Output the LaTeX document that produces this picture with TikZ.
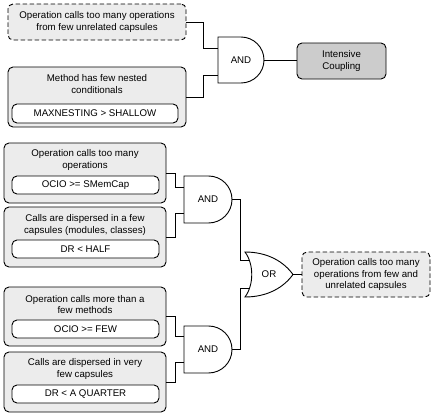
\documentclass[tikz,border=0pt]{standalone}
\usepackage{fontspec}
\setmainfont{Liberation Sans}
\tikzset{
  outerbox/.style={draw=black, line width=0.9pt, rounded corners=5pt, fill=gray!15, inner sep=0pt},
  dashbox/.style={outerbox, dash pattern=on 4.5pt off 2.5pt},
  darkbox/.style={outerbox, fill=gray!40},
  innerbox/.style={draw=black, line width=0.9pt, rounded corners=5pt, fill=white, inner sep=0pt,
    font=\fontsize{9.7}{11.5}\selectfont},
  txt/.style={font=\fontsize{9.7}{11.5}\selectfont, align=center, inner sep=0pt},
  gate/.style={draw=black, line width=0.9pt, fill=white},
  wire/.style={draw=black, line width=0.9pt}
}
\begin{document}
\begin{tikzpicture}[x=1pt,y=-1pt]
\useasboundingbox (0,0) rectangle (432,415);

% ---------- top part ----------
\node[dashbox, minimum width=178pt, minimum height=36pt] (b1) at (97,22) {};
\node[txt] (b1t) at (97,22) {Operation calls too many operations\\from few unrelated capsules};

\node[outerbox, minimum width=178pt, minimum height=60pt] (b2) at (97,97) {};
\node[txt] (b2t) at (97,84) {Method has few nested\\conditionals};
\node[innerbox, minimum width=166pt, minimum height=19pt] (b2i) at (95,113.5) {MAXNESTING > SHALLOW};

% AND gate 1
\draw[gate] (218,37) -- (241,37) .. controls (253.7,37) and (264,47.3) .. (264,60)
  .. controls (264,72.7) and (253.7,83) .. (241,83) -- (218,83) -- cycle;
\node[txt] (g1) at (241,60) {AND};
\coordinate (g1i1) at (218,48);
\coordinate (g1i2) at (218,75);
\coordinate (g1o) at (264,60);

\node[darkbox, minimum width=89pt, minimum height=36pt] (ic) at (341.5,61) {};
\node[txt] (ict) at (341.5,61) {Intensive\\Coupling};

\draw[wire] (b1.east) -- (203,22) |- (g1i1);
\draw[wire] (b2.east) -- (203,97) |- (g1i2);
\draw[wire] (g1o) -- (g1o -| ic.west);

% ---------- lower part ----------
\node[outerbox, minimum width=162pt, minimum height=60pt] (b3) at (85,173) {};
\node[txt] (b3t) at (85,160) {Operation calls too many\\operations};
\node[innerbox, minimum width=147pt, minimum height=18pt] (b3i) at (85.5,185) {OCIO >= SMemCap};

\node[outerbox, minimum width=162pt, minimum height=60pt] (b4) at (85,237) {};
\node[txt] (b4t) at (85,225) {Calls are dispersed in a few\\capsules (modules, classes)};
\node[innerbox, minimum width=147pt, minimum height=18pt] (b4i) at (85.5,249) {DR < HALF};

\node[outerbox, minimum width=162pt, minimum height=59pt] (b5) at (85,316.5) {};
\node[txt] (b5t) at (85,304.5) {Operation calls more than a\\few methods};
\node[innerbox, minimum width=147pt, minimum height=18pt] (b5i) at (85.5,329) {OCIO >= FEW};

\node[outerbox, minimum width=162pt, minimum height=60pt] (b6) at (85,382) {};
\node[txt] (b6t) at (85,369) {Calls are dispersed in very\\few capsules};
\node[innerbox, minimum width=147pt, minimum height=18pt] (b6i) at (85.5,394) {DR < A QUARTER};

% AND gate 2
\draw[gate] (184,176) -- (208.5,176) .. controls (221.5,176) and (232,186.5) .. (232,199.5)
  .. controls (232,212.5) and (221.5,223) .. (208.5,223) -- (184,223) -- cycle;
\node[txt] (g2) at (208,199.5) {AND};
\coordinate (g2i1) at (184,187);
\coordinate (g2i2) at (184,213);
\coordinate (g2o) at (232,199.5);

% AND gate 3
\draw[gate] (184,326) -- (208.5,326) .. controls (221.5,326) and (232,336.5) .. (232,349.5)
  .. controls (232,362.5) and (221.5,373) .. (208.5,373) -- (184,373) -- cycle;
\node[txt] (g3) at (208,349.5) {AND};
\coordinate (g3i1) at (184,336);
\coordinate (g3i2) at (184,362);
\coordinate (g3o) at (232,349.5);

% OR gate
\draw[gate] (245,252) .. controls (268,252) and (284,262) .. (293,274.5)
  .. controls (284,287) and (268,297) .. (245,297)
  .. controls (254,285) and (254,264) .. (245,252) -- cycle;
\node[txt] (or) at (269,274.5) {OR};
\coordinate (ori1) at (250,260);
\coordinate (ori2) at (250,288);
\coordinate (oro) at (293,274.5);

\node[dashbox, minimum width=128pt, minimum height=45pt] (fin) at (366,274.5) {};
\node[txt] (fint) at (366,274.5) {Operation calls too many\\operations from few and\\unrelated capsules};

\draw[wire] (b3.east) -- (175,173) |- (g2i1);
\draw[wire] (b4.east) -- (175,237) |- (g2i2);
\draw[wire] (b5.east) -- (175,316.5) |- (g3i1);
\draw[wire] (b6.east) -- (175,382) |- (g3i2);
\draw[wire] (g2o) -- (240,199.5) |- (ori1);
\draw[wire] (g3o) -- (240,349.5) |- (ori2);
\draw[wire] (oro) -- (fin.west);
\end{tikzpicture}
\end{document}
